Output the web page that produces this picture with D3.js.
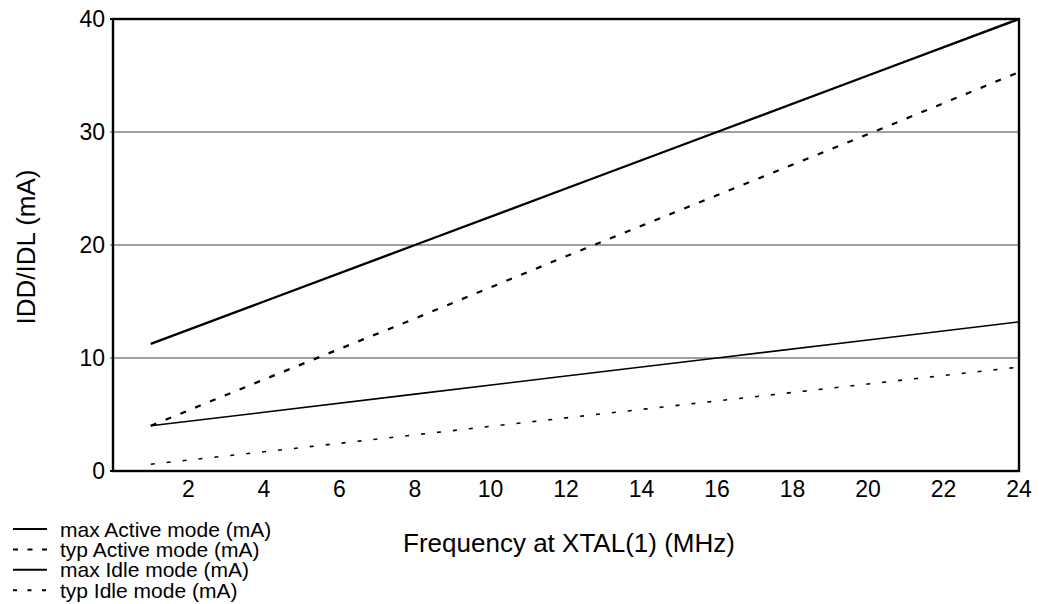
<!DOCTYPE html>
<html>
<head>
<meta charset="utf-8">
<script src="https://cdn.jsdelivr.net/npm/d3@7"></script>
<style>
  body { margin: 0; background: #fff; }
  text { font-family: "Liberation Sans", Arial, sans-serif; fill: #000; }
</style>
</head>
<body>
<div class="chart"></div>
<script>
// frequency points (MHz)
const freq = [1, 4, 8, 12, 16, 20, 24];
// currents (mA)
const maxActive = [11.25, 15, 20, 25, 30, 35, 40];
const typActive = [4, 8.1, 13.5, 19, 24.4, 29.8, 35.3];
const maxIdle = [4, 5.2, 6.8, 8.4, 10, 11.6, 13.2];
const typIdle = [0.6, 1.7, 3.2, 4.7, 6.2, 7.7, 9.2];
const seriesNames = ["max Active mode (mA)", "typ Active mode (mA)", "max Idle mode (mA)", "typ Idle mode (mA)"];
const xTicks = [2, 4, 6, 8, 10, 12, 14, 16, 18, 20, 22, 24];
const yTicks = [0, 10, 20, 30, 40];

const width = 1047;
const height = 604;
const margin = {top: 19, right: 28, bottom: 133, left: 113};

const svg = d3.select(".chart")
    .append("svg")
    .attr("width", width)
    .attr("height", height);

const x = d3.scaleLinear()
    .domain([0, 24])
    .range([margin.left, width - margin.right]);

const y = d3.scaleLinear()
    .domain([0, 40])
    .range([height - margin.bottom, margin.top]);

// horizontal grid lines (with a small stub left of the axis)
svg.append("g")
    .selectAll("line")
    .data(yTicks.filter(d => d > 0 && d < 40))
    .enter()
    .append("line")
    .attr("x1", x(0) - 3)
    .attr("x2", x(24))
    .attr("y1", d => y(d))
    .attr("y2", d => y(d))
    .attr("stroke", "#808080")
    .attr("stroke-width", 1.6);

// y tick labels
svg.append("g")
    .selectAll("text")
    .data(yTicks)
    .enter()
    .append("text")
    .attr("x", x(0) - 8)
    .attr("y", d => y(d))
    .attr("dy", "0.36em")
    .attr("text-anchor", "end")
    .style("font-size", "23px")
    .text(d => d);

// x tick labels
svg.append("g")
    .selectAll("text")
    .data(xTicks)
    .enter()
    .append("text")
    .attr("x", d => x(d))
    .attr("y", y(0) + 26)
    .attr("text-anchor", "middle")
    .style("font-size", "23px")
    .text(d => d);

const series = [
    {name: seriesNames[0], values: maxActive, width: 2.4, dash: null, legendDash: null},
    {name: seriesNames[1], values: typActive, width: 2.2, dash: "6,10", legendDash: "5,9.5"},
    {name: seriesNames[2], values: maxIdle, width: 1.6, dash: null, legendDash: null},
    {name: seriesNames[3], values: typIdle, width: 1.6, dash: "4,12", legendDash: "4,10.5"}
];

const line = d3.line()
    .x((d, i) => x(freq[i]))
    .y(d => y(d));

svg.append("g")
    .selectAll("path")
    .data(series)
    .enter()
    .append("path")
    .attr("d", d => line(d.values))
    .attr("fill", "none")
    .attr("stroke", "#000")
    .attr("stroke-width", d => d.width)
    .attr("stroke-dasharray", d => d.dash);

// frame
svg.append("rect")
    .attr("x", x(0))
    .attr("y", y(40))
    .attr("width", x(24) - x(0))
    .attr("height", y(0) - y(40))
    .attr("fill", "none")
    .attr("stroke", "#000")
    .attr("stroke-width", 2.4);

// stub ticks on y axis
svg.append("g")
    .selectAll("line")
    .data([0, 40])
    .enter()
    .append("line")
    .attr("x1", x(0) - 3)
    .attr("x2", x(0))
    .attr("y1", d => y(d))
    .attr("y2", d => y(d))
    .attr("stroke", "#000")
    .attr("stroke-width", 2);

// axis titles
svg.append("text")
    .attr("x", 569)
    .attr("y", 552)
    .attr("text-anchor", "middle")
    .style("font-size", "26px")
    .text("Frequency at XTAL(1) (MHz)");

svg.append("text")
    .attr("transform", `translate(35, ${y(20) + 2}) rotate(-90)`)
    .attr("text-anchor", "middle")
    .style("font-size", "26px")
    .text("IDD/IDL (mA)");

// legend
const legend = svg.append("g")
    .selectAll("g")
    .data(series)
    .enter()
    .append("g")
    .attr("transform", (d, i) => `translate(0, ${529 + i * 20.4})`);

legend.append("line")
    .attr("x1", 13)
    .attr("x2", 47)
    .attr("y1", 0)
    .attr("y2", 0)
    .attr("stroke", "#000")
    .attr("stroke-width", 2)
    .attr("stroke-dasharray", d => d.legendDash);

legend.append("text")
    .attr("x", 60)
    .attr("y", 0)
    .attr("dy", "0.36em")
    .style("font-size", "21px")
    .text(d => d.name);
</script>
</body>
</html>
